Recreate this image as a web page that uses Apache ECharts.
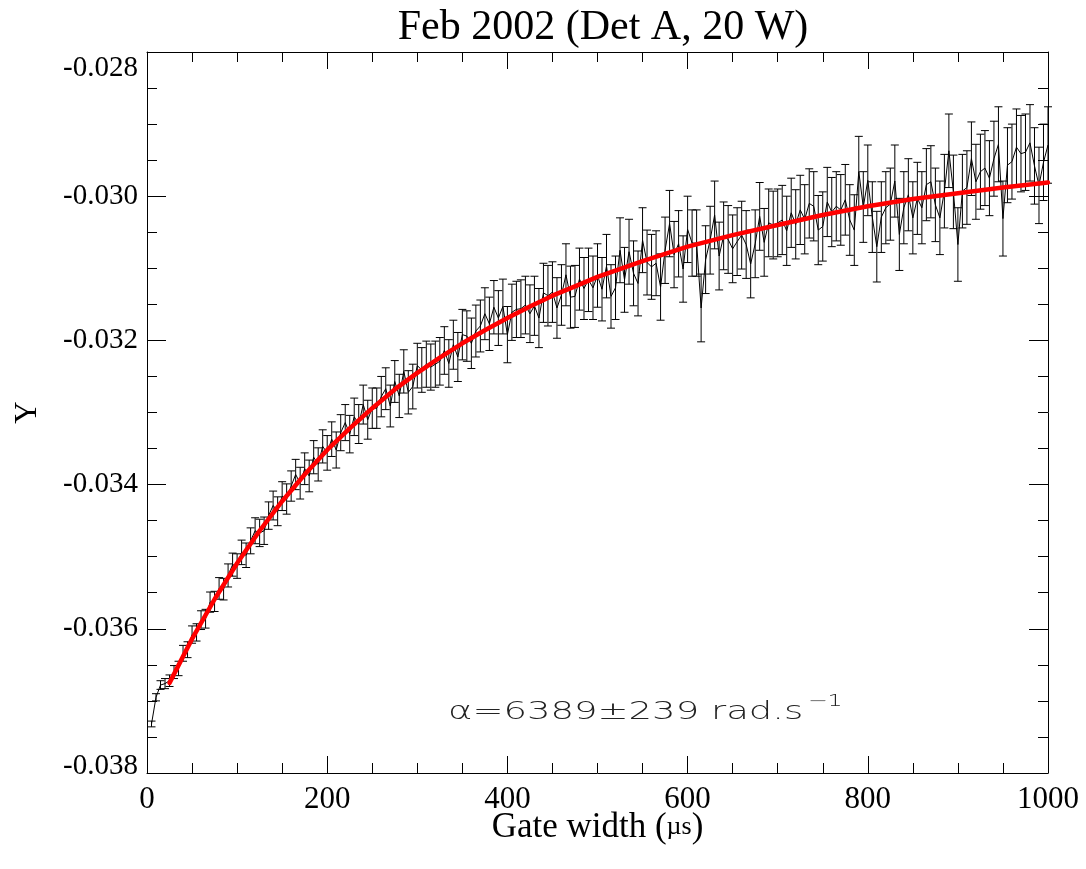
<!DOCTYPE html>
<html>
<head>
<meta charset="utf-8">
<script src="https://cdn.jsdelivr.net/npm/echarts@6/dist/echarts.min.js"></script>
<style>
html,body{margin:0;padding:0;background:#fff;}
#chart{width:1086px;height:869px;}
</style>
</head>
<body>
<div id="chart"></div>
<script>
// Gate width (µs)
const gateWidth = [
5,10,15,20,25,30,35,40,45,50,
55,60,65,70,75,80,85,90,95,100,
105,110,115,120,125,130,135,140,145,150,
155,160,165,170,175,180,185,190,195,200,
205,210,215,220,225,230,235,240,245,250,
255,260,265,270,275,280,285,290,295,300,
305,310,315,320,325,330,335,340,345,350,
355,360,365,370,375,380,385,390,395,400,
405,410,415,420,425,430,435,440,445,450,
455,460,465,470,475,480,485,490,495,500,
505,510,515,520,525,530,535,540,545,550,
555,560,565,570,575,580,585,590,595,600,
605,610,615,620,625,630,635,640,645,650,
655,660,665,670,675,680,685,690,695,700,
705,710,715,720,725,730,735,740,745,750,
755,760,765,770,775,780,785,790,795,800,
805,810,815,820,825,830,835,840,845,850,
855,860,865,870,875,880,885,890,895,900,
905,910,915,920,925,930,935,940,945,950,
955,960,965,970,975,980,985,990,995,1000
];
// measured Y values
const yValues = [
-0.03732,-0.03695,-0.03678,-0.03676,-0.03672,-0.03660,-0.03655,-0.03634,-0.03629,-0.03608,
-0.03605,-0.03588,-0.03586,-0.03563,-0.03562,-0.03544,-0.03545,-0.03526,-0.03511,-0.03513,
-0.03494,-0.03498,-0.03478,-0.03464,-0.03467,-0.03464,-0.03443,-0.03429,-0.03437,-0.03416,
-0.03420,-0.03402,-0.03386,-0.03398,-0.03378,-0.03388,-0.03362,-0.03372,-0.03347,-0.03356,
-0.03337,-0.03352,-0.03328,-0.03314,-0.03330,-0.03306,-0.03316,-0.03289,-0.03310,-0.03294,
-0.03294,-0.03278,-0.03267,-0.03291,-0.03257,-0.03277,-0.03243,-0.03272,-0.03264,-0.03235,
-0.03241,-0.03233,-0.03237,-0.03233,-0.03229,-0.03214,-0.03232,-0.03206,-0.03223,-0.03192,
-0.03194,-0.03204,-0.03187,-0.03180,-0.03163,-0.03177,-0.03154,-0.03169,-0.03153,-0.03192,
-0.03161,-0.03157,-0.03156,-0.03151,-0.03163,-0.03152,-0.03169,-0.03134,-0.03138,-0.03133,
-0.03155,-0.03137,-0.03109,-0.03140,-0.03139,-0.03115,-0.03128,-0.03116,-0.03127,-0.03110,
-0.03129,-0.03097,-0.03139,-0.03127,-0.03075,-0.03116,-0.03077,-0.03107,-0.03121,-0.03061,
-0.03092,-0.03098,-0.03093,-0.03126,-0.03075,-0.03038,-0.03081,-0.03066,-0.03101,-0.03046,
-0.03065,-0.03065,-0.03155,-0.03088,-0.03061,-0.03026,-0.03083,-0.03055,-0.03060,-0.03073,
-0.03063,-0.03054,-0.03067,-0.03094,-0.03066,-0.03028,-0.03064,-0.03037,-0.03040,-0.03037,
-0.03033,-0.03048,-0.03023,-0.03039,-0.03019,-0.03032,-0.03010,-0.03014,-0.03047,-0.03042,
-0.03008,-0.03022,-0.03014,-0.03019,-0.03005,-0.03033,-0.03047,-0.02966,-0.03015,-0.02978,
-0.03029,-0.03070,-0.03029,-0.03016,-0.03011,-0.02979,-0.03053,-0.03016,-0.02998,-0.03030,
-0.03003,-0.03016,-0.02984,-0.02980,-0.03012,-0.03030,-0.02993,-0.02937,-0.02994,-0.03067,
-0.02993,-0.02988,-0.02948,-0.02980,-0.02966,-0.02961,-0.02975,-0.02948,-0.02928,-0.03031,
-0.02957,-0.02952,-0.02932,-0.02941,-0.02939,-0.02926,-0.02958,-0.02985,-0.02953,-0.02929
];
// error bar half-lengths
const yErrors = [
0.00004,0.00005,0.00006,0.00007,0.00008,0.00009,0.00010,0.00011,0.00011,0.00012,
0.00012,0.00013,0.00013,0.00014,0.00014,0.00015,0.00015,0.00016,0.00016,0.00017,
0.00017,0.00017,0.00018,0.00018,0.00019,0.00019,0.00019,0.00020,0.00020,0.00020,
0.00021,0.00021,0.00021,0.00022,0.00022,0.00022,0.00023,0.00023,0.00023,0.00024,
0.00024,0.00025,0.00025,0.00025,0.00026,0.00026,0.00027,0.00027,0.00027,0.00028,
0.00028,0.00028,0.00029,0.00029,0.00029,0.00030,0.00030,0.00030,0.00031,0.00031,
0.00031,0.00032,0.00032,0.00032,0.00033,0.00033,0.00033,0.00034,0.00034,0.00035,
0.00035,0.00035,0.00036,0.00036,0.00036,0.00037,0.00037,0.00038,0.00038,0.00039,
0.00039,0.00039,0.00040,0.00040,0.00040,0.00041,0.00041,0.00041,0.00042,0.00042,
0.00042,0.00042,0.00043,0.00043,0.00043,0.00043,0.00043,0.00044,0.00044,0.00044,
0.00044,0.00044,0.00044,0.00044,0.00045,0.00045,0.00045,0.00045,0.00045,0.00045,
0.00045,0.00045,0.00045,0.00046,0.00046,0.00046,0.00046,0.00046,0.00046,0.00046,
0.00046,0.00046,0.00047,0.00047,0.00047,0.00047,0.00047,0.00047,0.00047,0.00047,
0.00047,0.00047,0.00047,0.00047,0.00047,0.00047,0.00047,0.00047,0.00047,0.00047,
0.00048,0.00048,0.00048,0.00048,0.00048,0.00048,0.00048,0.00048,0.00048,0.00048,
0.00048,0.00048,0.00048,0.00049,0.00049,0.00049,0.00049,0.00049,0.00049,0.00049,
0.00049,0.00049,0.00049,0.00050,0.00050,0.00050,0.00050,0.00050,0.00050,0.00050,
0.00050,0.00050,0.00050,0.00050,0.00051,0.00051,0.00051,0.00051,0.00051,0.00051,
0.00051,0.00051,0.00051,0.00052,0.00052,0.00052,0.00052,0.00052,0.00052,0.00052,
0.00052,0.00052,0.00053,0.00053,0.00053,0.00053,0.00053,0.00053,0.00053,0.00053
];
// fitted curve (red)
const fitX = [25,50,75,100,125,150,175,200,225,250,275,300,325,350,375,400,425,450,475,500,550,600,650,700,750,800,850,900,950,1000];
const fitY = [-0.03675,-0.03614,-0.03559,-0.03509,-0.03464,-0.03423,-0.03386,-0.03352,-0.03322,-0.03294,-0.03268,-0.03245,-0.03224,-0.03204,-0.03186,-0.03169,-0.03153,-0.03138,-0.03125,-0.03112,-0.03090,-0.03070,-0.03054,-0.03040,-0.03026,-0.03014,-0.03004,-0.02996,-0.02988,-0.02981];
const xTicks = [0,200,400,600,800,1000];
const yTicks = [-0.038,-0.036,-0.034,-0.032,-0.030,-0.028];

const titleText = 'Feb 2002 (Det A, 20 W)';
const annotation = 'α=6389±239 rad.s';
const annotationSup = '−1';

const serif = "'Liberation Serif','Times New Roman',serif";

const dataPts = gateWidth.map((x, i) => [x, yValues[i]]);
const errPts = gateWidth.map((x, i) => [x, yValues[i], yErrors[i]]);
const fitPts = fitX.map((x, i) => [x, fitY[i]]);

const chart = echarts.init(document.getElementById('chart'), null, {renderer: 'canvas'});

const axisCommonX = {
  type: 'value', min: xTicks[0], max: xTicks[xTicks.length - 1], interval: 200,
  axisLine: {show: true, onZero: false, lineStyle: {color: '#000', width: 1}},
  axisTick: {show: true, inside: true, length: 17, lineStyle: {color: '#000', width: 1}},
  minorTick: {show: true, splitNumber: 4, length: 10, lineStyle: {color: '#000', width: 1}},
  splitLine: {show: false}
};
const axisCommonY = {
  type: 'value', min: yTicks[0], max: yTicks[yTicks.length - 1], interval: 0.002,
  axisLine: {show: true, onZero: false, lineStyle: {color: '#000', width: 1}},
  axisTick: {show: true, inside: true, length: 19, lineStyle: {color: '#000', width: 1}},
  minorTick: {show: true, splitNumber: 4, length: 10, lineStyle: {color: '#000', width: 1}},
  splitLine: {show: false}
};

const option = {
  animation: false,
  backgroundColor: '#fff',
  title: {
    text: titleText, left: 598, top: 2, textAlign: 'center',
    textStyle: {fontFamily: serif, fontSize: 42, fontWeight: 'normal', color: '#000'}
  },
  grid: {left: 147, right: 38, top: 52, bottom: 96, containLabel: false},
  xAxis: [
    Object.assign({}, axisCommonX, {
      position: 'bottom',
      name: 'Gate width ({u|µs})', nameLocation: 'middle', nameGap: 37, nameMoveOverlap: false,
      nameTextStyle: {fontFamily: serif, fontSize: 35, color: '#000',
        rich: {u: {fontFamily: serif, fontSize: 26, color: '#000'}}},
      axisLabel: {show: true, margin: 11, fontFamily: serif, fontSize: 31, color: '#000',
        formatter: v => String(v)}
    }),
    Object.assign({}, axisCommonX, {position: 'top', axisLabel: {show: false}})
  ],
  yAxis: [
    Object.assign({}, axisCommonY, {
      position: 'left',
      name: 'Y', nameLocation: 'middle', nameRotate: 90, nameGap: 104, nameMoveOverlap: false,
      nameTextStyle: {fontFamily: serif, fontSize: 31, color: '#000'},
      axisLabel: {show: true, margin: 9, fontFamily: serif, fontSize: 29, color: '#000',
        formatter: v => {
          const s = v.toFixed(3);
          if (Math.abs(v - yTicks[yTicks.length - 1]) < 1e-9) return '{t|' + s + '}';
          if (Math.abs(v - yTicks[0]) < 1e-9) return '{b|' + s + '}';
          return s;
        },
        rich: {
          t: {fontFamily: serif, fontSize: 29, color: '#000', padding: [32, 0, 0, 0]},
          b: {fontFamily: serif, fontSize: 29, color: '#000', padding: [0, 0, 14, 0]}
        }
      }
    }),
    Object.assign({}, axisCommonY, {position: 'right', axisLabel: {show: false}})
  ],
  series: [
    {
      type: 'custom', name: 'errors', xAxisIndex: 0, yAxisIndex: 0,
      data: errPts, z: 2,
      renderItem: function (params, api) {
        const x = api.value(0), y = api.value(1), e = api.value(2);
        const top = api.coord([x, y + e]);
        const bot = api.coord([x, y - e]);
        const hw = 4;
        const st = {stroke: '#000', lineWidth: 1};
        return {
          type: 'group',
          children: [
            {type: 'line', shape: {x1: top[0], y1: top[1], x2: bot[0], y2: bot[1]}, style: st},
            {type: 'line', shape: {x1: top[0] - hw, y1: top[1], x2: top[0] + hw, y2: top[1]}, style: st},
            {type: 'line', shape: {x1: bot[0] - hw, y1: bot[1], x2: bot[0] + hw, y2: bot[1]}, style: st}
          ]
        };
      }
    },
    {
      type: 'line', name: 'data', data: dataPts, symbol: 'none', z: 3,
      lineStyle: {color: '#000', width: 1}
    },
    {
      type: 'line', name: 'fit', data: fitPts, symbol: 'none', z: 4,
      smooth: false,
      lineStyle: {color: '#ff0000', width: 4.5, join: 'round', cap: 'round'}
    }
  ],
  graphic: [
    {
      type: 'group', x: 448, y: 712, scaleX: 1.48, z: 10,
      children: [
        {type: 'text', x: 0, y: 0,
          style: {text: annotation, font: "200 25px 'DejaVu Sans'", fill: '#222', verticalAlign: 'middle'}},
        {type: 'text', x: 243, y: -10,
          style: {text: annotationSup, font: "200 16px 'DejaVu Sans'", fill: '#222', verticalAlign: 'middle'}}
      ]
    }
  ]
};
chart.setOption(option);
</script>
</body>
</html>
